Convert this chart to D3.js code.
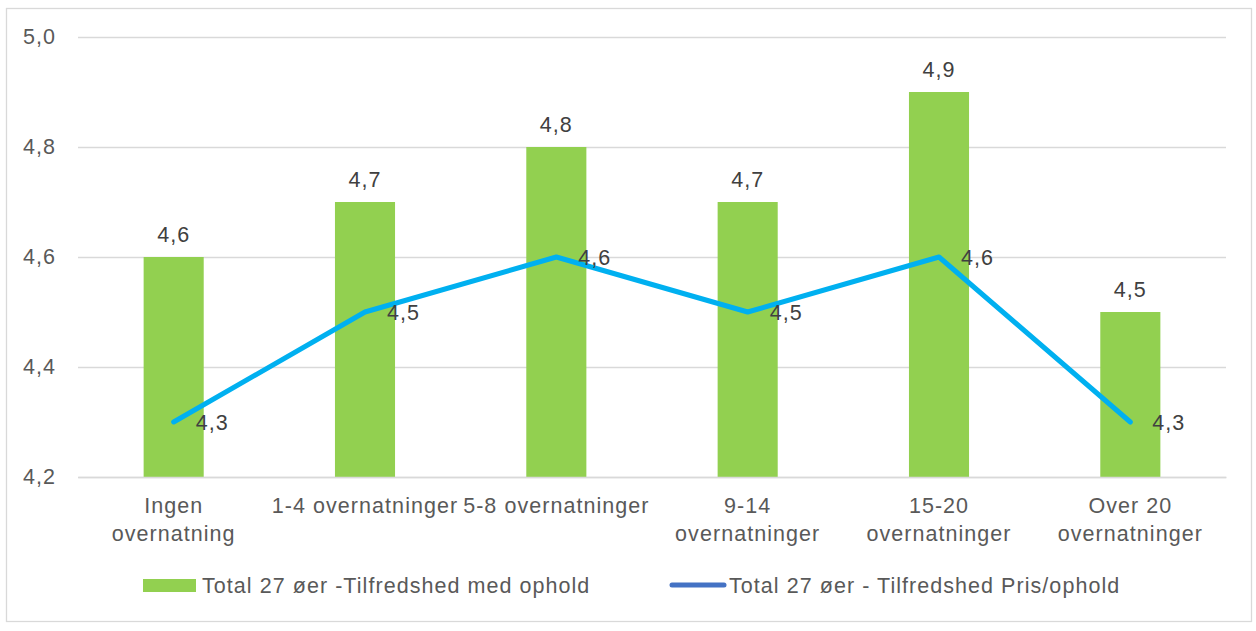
<!DOCTYPE html>
<html>
<head>
<meta charset="utf-8">
<script src="https://cdn.jsdelivr.net/npm/d3@7/dist/d3.min.js"></script>
<style>
  html, body { margin: 0; padding: 0; background: #fff; }
  svg text { font-family: "Liberation Sans", Arial, sans-serif; font-size: 21.5px; letter-spacing: 1.05px; }
</style>
</head>
<body>
<svg id="chart" width="1256" height="631"></svg>
<script>
const categories = [
  ["Ingen", "overnatning"],
  ["1-4 overnatninger"],
  ["5-8 overnatninger"],
  ["9-14", "overnatninger"],
  ["15-20", "overnatninger"],
  ["Over 20", "overnatninger"]
];
const barValues = [4.6, 4.7, 4.8, 4.7, 4.9, 4.5];
const lineValues = [4.3, 4.5, 4.6, 4.5, 4.6, 4.3];
const yTicks = [4.2, 4.4, 4.6, 4.8, 5.0];
const barSeriesName = "Total 27 øer -Tilfredshed med ophold";
const lineSeriesName = "Total 27 øer - Tilfredshed Pris/ophold";

(function () {
const fmt = v => d3.format(".1f")(v).replace(".", ",");
const FONT = '"Liberation Sans", Arial, sans-serif';

const svg = d3.select("#chart");
const plotLeft = 78, plotRight = 1226, plotTop = 37, plotBottom = 477;

// chart border
svg.append("rect").attr("x", 6.5).attr("y", 8.5).attr("width", 1245).attr("height", 613)
  .attr("fill", "#fff").attr("stroke", "#d9d9d9").attr("stroke-width", 1.3);

const idx = d3.range(categories.length);
const x = d3.scaleBand().domain(idx).range([plotLeft, plotRight]).padding(0);
const y = d3.scaleLinear().domain([4.2, 5.0]).range([plotBottom, plotTop]);
const barW = x.bandwidth() * 0.314;

// y axis with gridlines
const yAxis = d3.axisLeft(y).tickValues(yTicks).tickFormat(fmt).tickSize(-(plotRight - plotLeft)).tickPadding(22);
const gy = svg.append("g").attr("transform", `translate(${plotLeft},0)`).call(yAxis);
gy.select(".domain").remove();
gy.selectAll(".tick line").attr("stroke", "#d9d9d9").attr("stroke-width", 1.3);
gy.selectAll(".tick text").attr("fill", "#595959").style("font-size", "21.5px")
  .style("font-family", FONT);

// bars
svg.append("g").selectAll("rect").data(barValues).join("rect")
  .attr("x", (d, i) => x(i) + x.bandwidth() / 2 - barW / 2)
  .attr("y", d => y(d))
  .attr("width", barW)
  .attr("height", d => y(4.2) - y(d))
  .attr("fill", "#92d050");

// x axis
const xAxis = d3.axisBottom(x).tickSize(0).tickFormat(() => "");
const gx = svg.append("g").attr("transform", `translate(0,${plotBottom})`).call(xAxis);
gx.select(".domain").attr("stroke", "#d9d9d9").attr("stroke-width", 1.3);
gx.selectAll(".tick").each(function(i) {
  const t = d3.select(this).select("text")
    .attr("fill", "#595959").attr("y", 0).attr("dy", null)
    .style("font-size", "21.5px").style("font-family", FONT)
    .attr("text-anchor", "middle");
  t.text(null);
  categories[i].forEach((ln, k) => {
    t.append("tspan").attr("x", 0).attr("y", 36 + k * 28).text(ln);
  });
});

// bar labels
svg.append("g").selectAll("text").data(barValues).join("text")
  .attr("x", (d, i) => x(i) + x.bandwidth() / 2)
  .attr("y", d => y(d) - 15)
  .attr("text-anchor", "middle")
  .attr("fill", "#404040")
  .text(d => fmt(d));

// line
const lineGen = d3.line().x((d, i) => x(i) + x.bandwidth() / 2).y(d => y(d));
svg.append("path").datum(lineValues)
  .attr("d", lineGen).attr("fill", "none")
  .attr("stroke", "#00b0f0").attr("stroke-width", 5)
  .attr("stroke-linecap", "round").attr("stroke-linejoin", "round");

// line labels
svg.append("g").selectAll("text").data(lineValues).join("text")
  .attr("x", (d, i) => x(i) + x.bandwidth() / 2 + 22)
  .attr("y", d => y(d))
  .attr("dy", "0.36em")
  .attr("fill", "#404040")
  .text(d => fmt(d));

// legend
const lg = svg.append("g");
lg.append("rect").attr("x", 143).attr("y", 579).attr("width", 53).attr("height", 13).attr("fill", "#92d050");
lg.append("text").attr("x", 202).attr("y", 585).attr("dy", "0.36em").attr("fill", "#595959").text(barSeriesName);
lg.append("line").attr("x1", 672).attr("x2", 724).attr("y1", 585).attr("y2", 585)
  .attr("stroke", "#4472c4").attr("stroke-width", 5).attr("stroke-linecap", "round");
lg.append("text").attr("x", 729).attr("y", 585).attr("dy", "0.36em").attr("fill", "#595959").text(lineSeriesName);
})();
</script>
</body>
</html>
